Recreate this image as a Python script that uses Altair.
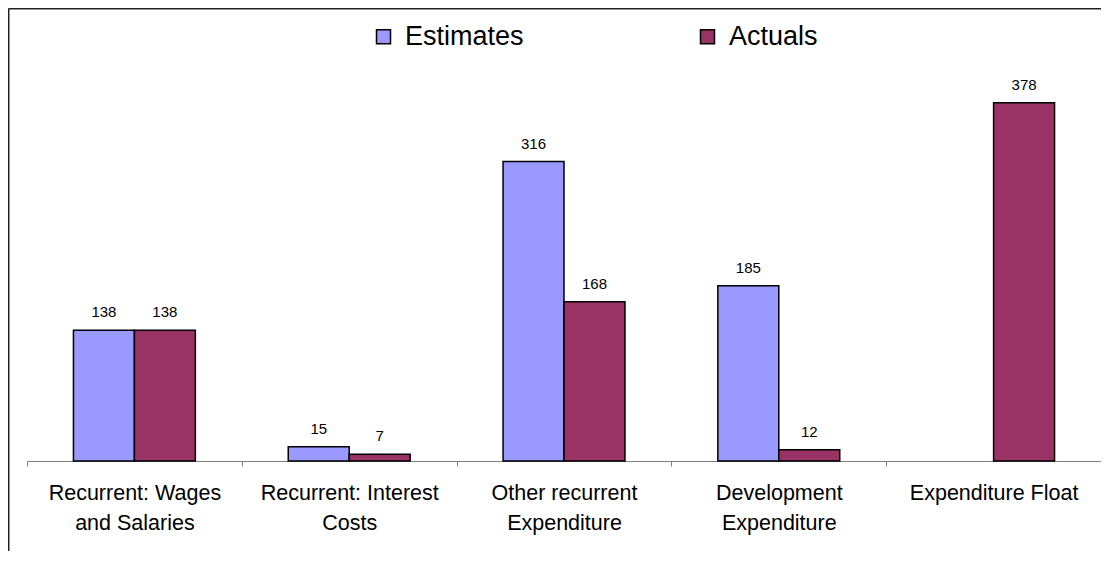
import altair as alt
import pandas as pd

categories = [
    "Recurrent: Wages\nand Salaries",
    "Recurrent: Interest\nCosts",
    "Other recurrent\nExpenditure",
    "Development\nExpenditure",
    "Expenditure Float",
]
series = ["Estimates", "Actuals"]
estimates = [138, 15, 316, 185, None]
actuals = [138, 7, 168, 12, 378]
colors = ["#9999FF", "#993366"]

rows = []
for c, e, a in zip(categories, estimates, actuals):
    if e is not None:
        rows.append({"category": c, "series": "Estimates", "value": e})
    if a is not None:
        rows.append({"category": c, "series": "Actuals", "value": a})
df = pd.DataFrame(rows)

FONT = "Liberation Sans"

x = alt.X(
    "category:N",
    sort=categories,
    scale=alt.Scale(domain=categories, paddingInner=0, paddingOuter=0),
    axis=alt.Axis(
        title=None,
        labelAngle=0,
        labelExpr="split(datum.label, '\\n')",
        labelFontSize=21.5,
        labelLineHeight=30,
        labelFont=FONT,
        labelColor="black",
        labelLimit=0,
        labelPadding=16,
        tickBand="extent",
        tickSize=5,
        domainColor="#808080",
        tickColor="#808080",
        domainWidth=1,
        tickWidth=1,
    ),
)
xoff = alt.XOffset(
    "series:N",
    sort=series,
    scale=alt.Scale(domain=series, paddingInner=0, paddingOuter=0.762),
)
y = alt.Y("value:Q", scale=alt.Scale(domain=[0, 400], nice=False, zero=True), axis=None)
color = alt.Color(
    "series:N",
    sort=series,
    scale=alt.Scale(domain=series, range=colors),
    legend=alt.Legend(
        title=None,
        orient="none",
        direction="horizontal",
        legendX=343,
        legendY=-59,
        symbolType="square",
        symbolSize=196,
        symbolStrokeColor="black",
        symbolStrokeWidth=1.5,
        symbolOpacity=1,
        labelFontSize=27,
        labelFont=FONT,
        labelColor="black",
        labelOffset=8,
        labelLimit=0,
        columnPadding=170,
        padding=0,
    ),
)

bars = alt.Chart(df).mark_bar(stroke="black", strokeWidth=1.5, opacity=1).encode(
    x=x, xOffset=xoff, y=y, color=color
)
labels = alt.Chart(df).mark_text(
    font=FONT, fontSize=15, color="black", baseline="alphabetic", dy=-13
).encode(x=x, xOffset=xoff, y=y, text="value:Q")

frame_data = alt.Data(values=[{}])
frame_left = alt.Chart(frame_data).mark_rule(color="#222222", strokeWidth=2).encode(
    x=alt.value(-18.5), y=alt.value(-73.5), y2=alt.value(500)
)
frame_top = alt.Chart(frame_data).mark_rule(color="#222222", strokeWidth=2).encode(
    x=alt.value(-18.5), x2=alt.value(1090), y=alt.value(-73.5)
)

chart = (
    alt.layer(bars, labels, frame_left, frame_top)
    .properties(
        width=1074,
        height=379,
        padding={"left": 19, "top": 74, "right": 0, "bottom": 90},
        autosize=alt.AutoSizeParams(type="none"),
        background="white",
    )
    .configure_view(stroke=None)
)

chart.save("out.html", embed_options={"renderer": "svg", "actions": False})
